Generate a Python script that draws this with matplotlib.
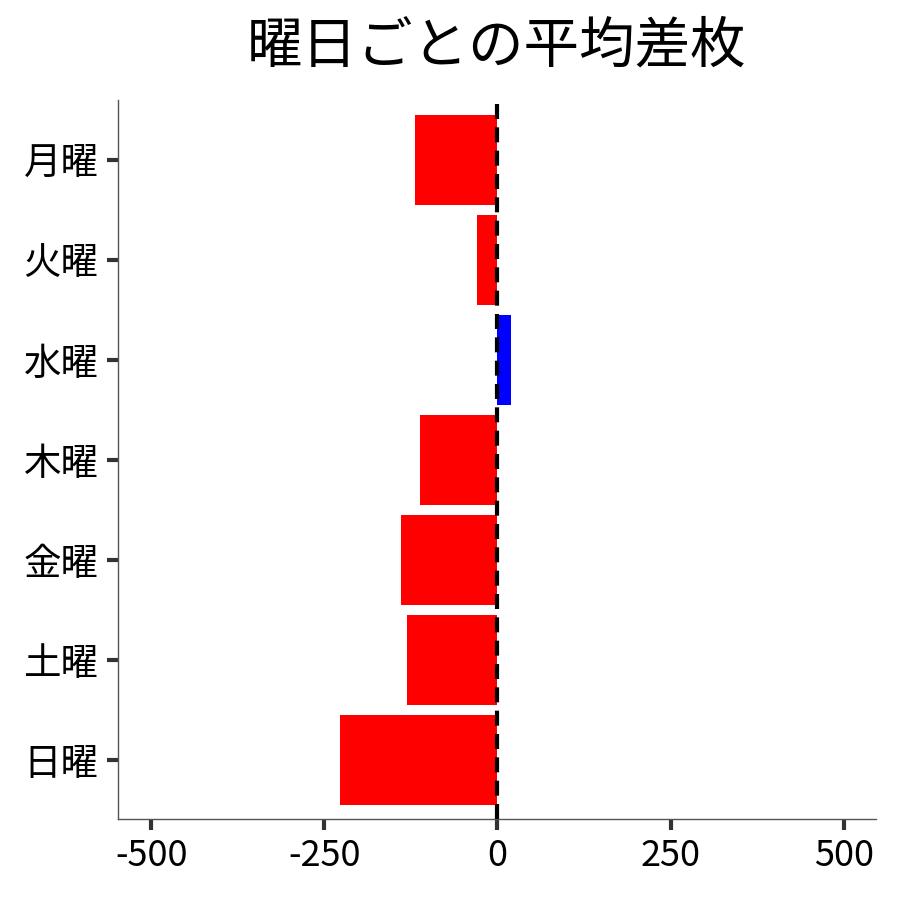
import matplotlib
matplotlib.use("Agg")
import matplotlib.pyplot as plt

plt.rcParams['font.family'] = ['Noto Sans CJK JP', 'DejaVu Sans']

days = ["月曜", "火曜", "水曜", "木曜", "金曜", "土曜", "日曜"]
values = [-119, -29, 19, -112, -140, -130, -228]
xticks = [-500, -250, 0, 250, 500]

colors = ["blue" if v > 0 else "red" for v in values]

fig = plt.figure(figsize=(9, 9), dpi=100)
ax = fig.add_axes([0.131, 0.09, 0.842, 0.799])
ypos = list(range(len(days)))
ax.barh(ypos, values, height=0.9, color=colors, zorder=2)
ax.axvline(0, color="black", linestyle=(0, (3.6, 2.0)), linewidth=3.0, zorder=3)

ax.set_yticks(ypos)
ax.set_yticklabels(days, fontsize=27)
ax.set_xticks(xticks)
ax.set_xticklabels([str(t) for t in xticks], fontsize=26)
ax.set_xlim(-548, 546)
ax.set_ylim(6.59, -0.6)

for s in ["top", "right"]:
    ax.spines[s].set_visible(False)
for s in ["left", "bottom"]:
    ax.spines[s].set_color("#555555")
    ax.spines[s].set_linewidth(1.0)
ax.tick_params(axis="both", length=8, width=3, color="#333333", pad=6)

ax.set_title("曜日ごとの平均差枚", fontsize=40, pad=27)

fig.savefig("out.png", dpi=100)
